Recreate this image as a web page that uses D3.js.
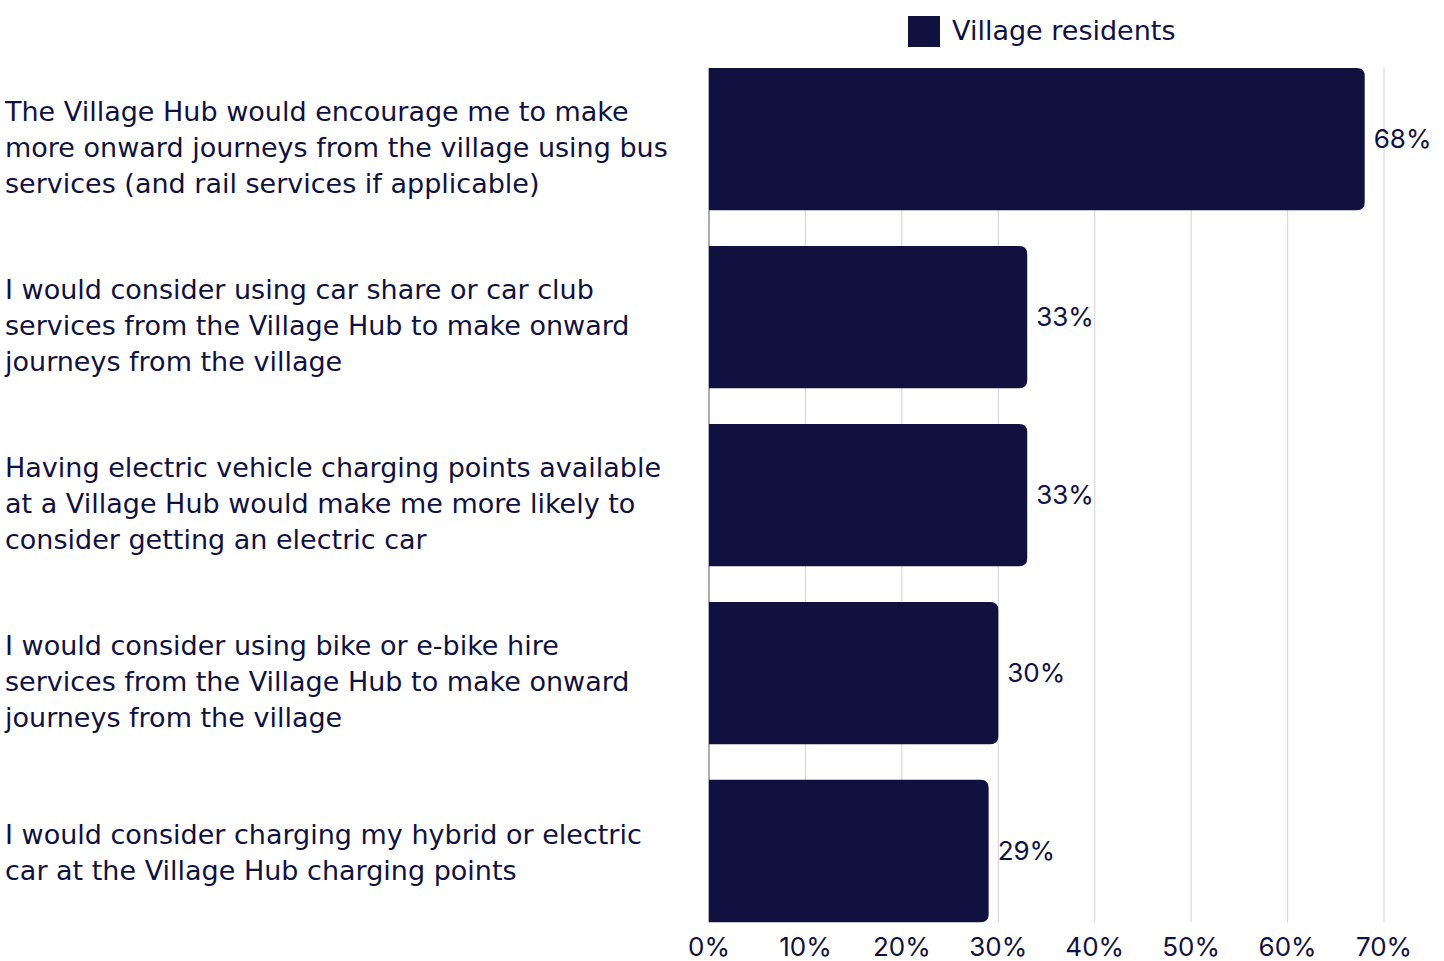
<!DOCTYPE html>
<html>
<head>
<meta charset="utf-8">
<script src="https://cdn.jsdelivr.net/npm/d3@7"></script>
<style>
  html, body { margin: 0; padding: 0; background: #ffffff; }
  svg { display: block; }
  .label { font-family: "DejaVu Sans", sans-serif; }
  .num { font-family: "Inter", "Lato", sans-serif; }
</style>
</head>
<body>
<svg id="chart" width="1444" height="961"></svg>
<script>
// Survey statements (one array entry per wrapped line)
const categories = [
  ["The Village Hub would encourage me to make", "more onward journeys from the village using bus", "services (and rail services if applicable)"],
  ["I would consider using car share or car club", "services from the Village Hub to make onward", "journeys from the village"],
  ["Having electric vehicle charging points available", "at a Village Hub would make me more likely to", "consider getting an electric car"],
  ["I would consider using bike or e-bike hire", "services from the Village Hub to make onward", "journeys from the village"],
  ["I would consider charging my hybrid or electric", "car at the Village Hub charging points"]
];
const values = [68, 33, 33, 30, 29];
const seriesName = "Village residents";
const xTicks = [0, 10, 20, 30, 40, 50, 60, 70];

const ink = "#10113e";
const svg = d3.select("#chart");

const x = d3.scaleLinear().domain([0, 70]).range([709, 1384]);
const y = d3.scaleBand()
  .domain(d3.range(values.length))
  .range([50.2, 940])
  .paddingInner(0.2)
  .paddingOuter(0.1);

const plotTop = y(0);
const plotBottom = y(values.length - 1) + y.bandwidth();

// vertical gridlines
svg.append("g").selectAll("line")
  .data(xTicks.filter(d => d > 0))
  .join("line")
  .attr("x1", d => x(d)).attr("x2", d => x(d))
  .attr("y1", plotTop).attr("y2", plotBottom)
  .attr("stroke", "#d9d8e2").attr("stroke-width", 1.2);

// zero line
svg.append("line")
  .attr("x1", x(0)).attr("x2", x(0))
  .attr("y1", plotTop).attr("y2", plotBottom)
  .attr("stroke", "#77748f").attr("stroke-width", 1.2);

// bars with a rounded right end
const r = 8;
svg.append("g").selectAll("path")
  .data(values)
  .join("path")
  .attr("fill", ink)
  .attr("d", (d, i) => {
    const x0 = x(0), x1 = x(d), y0 = y(i), y1 = y(i) + y.bandwidth();
    return `M${x0},${y0}H${x1 - r}Q${x1},${y0} ${x1},${y0 + r}V${y1 - r}Q${x1},${y1} ${x1 - r},${y1}H${x0}Z`;
  });

// value labels
svg.append("g").selectAll("text")
  .data(values)
  .join("text")
  .attr("class", "num")
  .attr("x", d => x(d) + 9)
  .attr("y", (d, i) => y(i) + y.bandwidth() / 2)
  .attr("dy", "0.35em")
  .attr("fill", ink)
  .attr("font-size", 26)
  .text(d => d + "%");

// category labels, wrapped over several lines
const lineH = 36;
svg.append("g").selectAll("text")
  .data(categories)
  .join("text")
  .attr("class", "label")
  .attr("fill", ink)
  .attr("font-size", 27)
  .each(function(lines, i) {
    const cy = y(i) + y.bandwidth() / 2;
    const top = cy - 16.5 - (lines.length - 2) * 11;
    d3.select(this).selectAll("tspan")
      .data(lines)
      .join("tspan")
      .attr("x", 5)
      .attr("y", (l, j) => top + j * lineH)
      .attr("dy", "0.35em")
      .text(l => l);
  });

// x axis tick labels
svg.append("g").selectAll("text")
  .data(xTicks)
  .join("text")
  .attr("class", "num")
  .attr("x", d => x(d))
  .attr("y", 947)
  .attr("dy", "0.35em")
  .attr("text-anchor", "middle")
  .attr("fill", ink)
  .attr("font-size", 26)
  .text(d => d + "%");

// legend
const lg = svg.append("g");
lg.append("rect").attr("x", 908).attr("y", 16).attr("width", 32).attr("height", 31).attr("fill", ink);
lg.append("text").attr("class", "label").attr("x", 952).attr("y", 31).attr("dy", "0.35em")
  .attr("fill", ink).attr("font-size", 27).text(seriesName);
</script>
</body>
</html>
